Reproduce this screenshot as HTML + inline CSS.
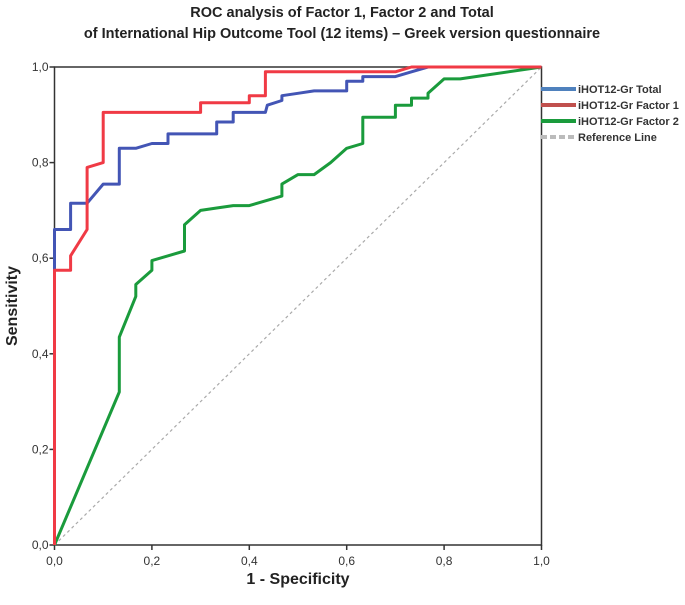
<!DOCTYPE html>
<html><head><meta charset="utf-8"><style>
body{margin:0;background:#fff;}
svg text{font-family:"Liberation Sans",sans-serif;}
</style></head><body>
<svg id="chart" width="685" height="600" viewBox="0 0 685 600" xmlns="http://www.w3.org/2000/svg">
<text x="342" y="17" text-anchor="middle" font-size="14.5" font-weight="bold" fill="#222">ROC analysis of Factor 1, Factor 2 and Total</text>
<text x="342" y="38" text-anchor="middle" font-size="14.5" font-weight="bold" fill="#222">of International Hip Outcome Tool (12 items) – Greek version questionnaire</text>
<g id="plot"></g>
<text x="298" y="584" text-anchor="middle" font-size="16" font-weight="bold" fill="#222">1 - Specificity</text>
<text transform="translate(17,306) rotate(-90)" text-anchor="middle" font-size="16" font-weight="bold" fill="#222">Sensitivity</text>
<g font-size="11" font-weight="bold" fill="#333">
<line x1="541" y1="89" x2="576" y2="89" stroke="#4f81bd" stroke-width="4"/>
<text x="578" y="93">iHOT12-Gr Total</text>
<line x1="541" y1="105" x2="576" y2="105" stroke="#c0504d" stroke-width="4"/>
<text x="578" y="109">iHOT12-Gr Factor 1</text>
<line x1="541" y1="121" x2="576" y2="121" stroke="#1a9b3c" stroke-width="4"/>
<text x="578" y="125">iHOT12-Gr Factor 2</text>
<line x1="541" y1="137" x2="576" y2="137" stroke="#bbb" stroke-width="4" stroke-dasharray="6,3"/>
<text x="578" y="141">Reference Line</text>
</g>
</svg>
<script>
const ticks = [0, 0.2, 0.4, 0.6, 0.8, 1.0];
const tickLabels = ["0,0", "0,2", "0,4", "0,6", "0,8", "1,0"];
const totalFpr = [0,0,0.033,0.033,0.067,0.1,0.133,0.133,0.167,0.2,0.233,0.233,0.333,0.333,0.367,0.367,0.433,0.437,0.467,0.467,0.5,0.533,0.6,0.6,0.633,0.633,0.7,0.733,0.767,1];
const totalTpr = [0,0.66,0.66,0.715,0.715,0.755,0.755,0.83,0.83,0.84,0.84,0.86,0.86,0.885,0.885,0.905,0.905,0.92,0.93,0.94,0.945,0.95,0.95,0.97,0.97,0.98,0.98,0.99,1,1];
const f1Fpr = [0,0,0.033,0.033,0.067,0.067,0.1,0.1,0.3,0.3,0.4,0.4,0.433,0.433,0.7,0.733,1];
const f1Tpr = [0,0.575,0.575,0.605,0.66,0.79,0.80,0.905,0.905,0.925,0.925,0.94,0.94,0.99,0.99,1,1];
const f2Fpr = [0,0.133,0.133,0.167,0.167,0.2,0.2,0.267,0.267,0.3,0.333,0.367,0.4,0.467,0.467,0.5,0.533,0.567,0.6,0.633,0.633,0.7,0.7,0.733,0.733,0.767,0.767,0.8,0.833,1];
const f2Tpr = [0,0.32,0.435,0.52,0.545,0.575,0.595,0.615,0.67,0.70,0.705,0.71,0.71,0.73,0.755,0.775,0.775,0.80,0.83,0.84,0.895,0.895,0.92,0.92,0.935,0.935,0.945,0.975,0.975,1];
const NS="http://www.w3.org/2000/svg";
const X0=54.5,X1=541.5,Y0=545,Y1=67;
const sx=v=>X0+v*(X1-X0), sy=v=>Y0-v*(Y0-Y1);
const g=document.getElementById('plot');
function mk(t,a){const e=document.createElementNS(NS,t);for(const k in a)e.setAttribute(k,a[k]);g.appendChild(e);return e;}
const frame=mk('rect',{x:X0,y:Y1,width:X1-X0,height:Y0-Y1,fill:'none',stroke:'#333','stroke-width':1.5});


ticks.forEach((t,i)=>{
  const a=mk('line',{x1:sx(t),y1:Y0,x2:sx(t),y2:Y0+5,stroke:'#333','stroke-width':1.5});
  
  
  const b=mk('text',{x:sx(t),y:Y0+20,'text-anchor':'middle','font-size':12,fill:'#333'});
  b.textContent=tickLabels[i];
  
  
  const c=mk('line',{x1:X0-5,y1:sy(t),x2:X0,y2:sy(t),stroke:'#333','stroke-width':1.5});
  
  
  const d=mk('text',{x:X0-6,y:sy(t)+4,'text-anchor':'end','font-size':12,fill:'#333'});
  d.textContent=tickLabels[i];
  
  
});
const ref=mk('line',{x1:sx(0),y1:sy(0),x2:sx(1),y2:sy(1),stroke:'#aaa','stroke-width':1.2,'stroke-dasharray':'3,3'});


function series(xs,ys,col,name){
  const p=xs.map((x,i)=>sx(x).toFixed(1)+','+sy(ys[i]).toFixed(1)).join(' ');
  const e=mk('polyline',{points:p,fill:'none',stroke:col,'stroke-width':3,'stroke-linejoin':'round'});
  
  
}
series(f2Fpr,f2Tpr,'#1a9b3c','series-factor-2');
series(totalFpr,totalTpr,'#4355b5','series-total');
series(f1Fpr,f1Tpr,'#f03a45','series-factor-1');
</script>
</body></html>
